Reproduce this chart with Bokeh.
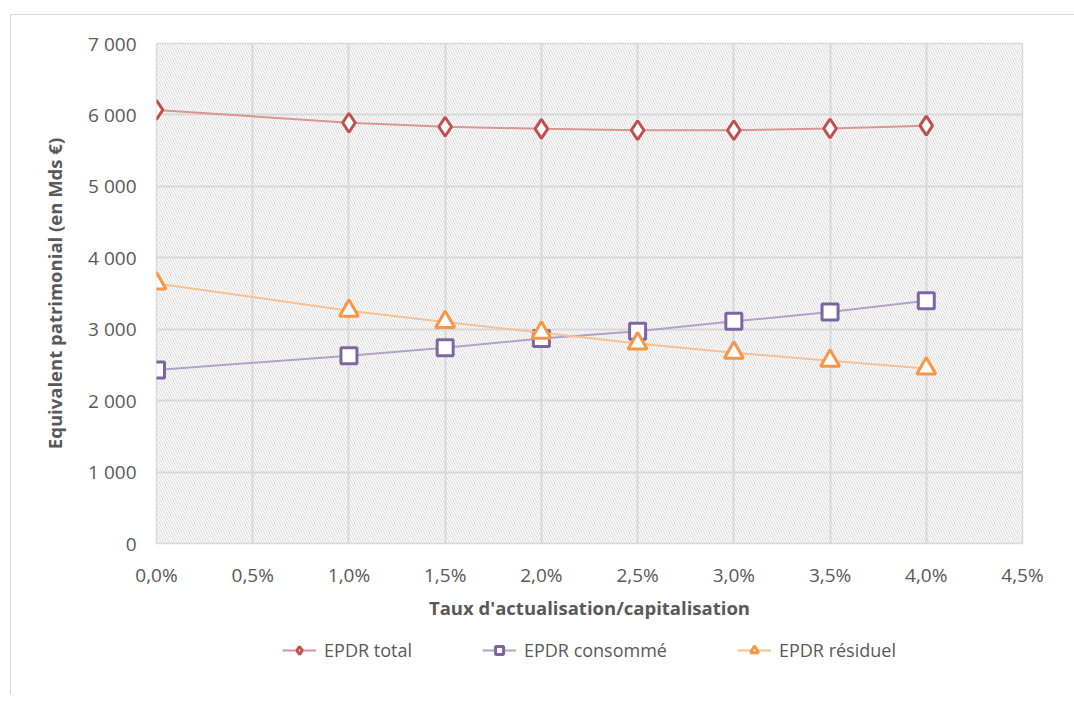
from bokeh.plotting import figure
from bokeh.layouts import column
from bokeh.models import (Range1d, FixedTicker, CustomJSTickFormatter, Legend, LegendItem,
                          BoxAnnotation)
from bokeh.embed import file_html
from bokeh.resources import INLINE

rates = [0.0, 1.0, 1.5, 2.0, 2.5, 3.0, 3.5, 4.0]
epdr_total = [6070, 5890, 5835, 5805, 5785, 5785, 5810, 5850]
epdr_consomme = [2430, 2630, 2740, 2870, 2970, 3110, 3240, 3400]
epdr_residuel = [3640, 3260, 3100, 2950, 2800, 2670, 2560, 2450]

x_ticks = [0.0, 0.5, 1.0, 1.5, 2.0, 2.5, 3.0, 3.5, 4.0, 4.5]
y_ticks = [0, 1000, 2000, 3000, 4000, 5000, 6000, 7000]

FONT = "Open Sans"
TXT = "#595959"

p = figure(frame_width=866, frame_height=500, output_backend="svg", toolbar_location=None,
           x_range=Range1d(0, 4.5), y_range=Range1d(0, 7000),
           min_border_left=145, min_border_right=52, min_border_top=28,
           min_border_bottom=0)

p.background_fill_color = "white"
p.border_fill_color = "white"
p.outline_line_color = "#d9d9d9"
p.outline_line_width = 1.5

# hatched plot-area background
p.add_layout(BoxAnnotation(fill_alpha=0, line_alpha=0, hatch_pattern="\\",
                           hatch_color="#d6d6d6", hatch_scale=5, hatch_weight=1,
                           level="underlay"))

for ax in (p.xaxis[0], p.yaxis[0]):
    ax.axis_line_color = None
    ax.major_tick_line_color = None
    ax.minor_tick_line_color = None
    ax.major_tick_out = 0
    ax.major_tick_in = 0
    ax.major_label_text_font = FONT
    ax.major_label_text_font_size = "19px"
    ax.major_label_text_color = TXT
    ax.axis_label_text_font = FONT
    ax.axis_label_text_font_size = "18.5px"
    ax.axis_label_text_font_style = "bold"
    ax.axis_label_text_color = TXT

p.xaxis.ticker = FixedTicker(ticks=x_ticks)
p.yaxis.ticker = FixedTicker(ticks=y_ticks)
p.xaxis.formatter = CustomJSTickFormatter(code="return tick.toFixed(1).replace('.', ',') + '%';")
p.yaxis.formatter = CustomJSTickFormatter(
    code="return tick.toFixed(0).replace(/\\B(?=(\\d{3})+(?!\\d))/g, ' ');")
p.xaxis.major_label_standoff = 18
p.yaxis.major_label_standoff = 20
p.xaxis.axis_label = "Taux d'actualisation/capitalisation"
p.yaxis.axis_label = "Equivalent patrimonial (en Mds €)"
p.xaxis.axis_label_standoff = 4
p.yaxis.axis_label_standoff = 18

p.xgrid.grid_line_color = "#d9d9d9"
p.ygrid.grid_line_color = "#d9d9d9"
p.xgrid.grid_line_width = 2
p.ygrid.grid_line_width = 2

# legend strip (separate small figure below the chart; its glyphs lie outside its view)
lg = figure(width=1063, height=72, output_backend="svg", toolbar_location=None,
            x_range=Range1d(100, 101), y_range=Range1d(100000, 100001),
            min_border_left=26, min_border_right=0, min_border_top=0, min_border_bottom=0)
lg.axis.visible = False
lg.grid.visible = False
lg.outline_line_color = None
lg.border_fill_color = "white"
lg.background_fill_color = "white"

series = [
    ("EPDR total", epdr_total, "diamond", "#C0504D", "#D99694", 19),
    ("EPDR consommé", epdr_consomme, "square", "#8064A2", "#B3A2C7", 16),
    ("EPDR résiduel", epdr_residuel, "triangle", "#F79646", "#FAC090", 19),
]
items = []
for name, vals, marker, mcol, lcol, size in series:
    p.line(rates, vals, line_color=lcol, line_width=2)
    p.scatter(rates, vals, marker=marker, size=size, line_color=mcol,
              fill_color="white", line_width=3)
    l2 = lg.line(rates, vals, line_color=lcol, line_width=2)
    s2 = lg.scatter(rates, vals, marker=marker, size=size, line_color=mcol,
                    fill_color="white", line_width=3)
    items.append(LegendItem(label=name, renderers=[l2, s2]))

legend = Legend(items=items, orientation="horizontal", location="top_center",
                label_text_font=FONT, label_text_font_size="18px",
                label_text_color=TXT, border_line_color=None,
                background_fill_alpha=0, spacing=70, glyph_width=34, glyph_height=20,
                margin=16, padding=2, label_standoff=8)
lg.add_layout(legend, "center")

layout = column(p, lg, spacing=0)
layout.styles = {"margin-left": "10px", "margin-top": "14px",
                 "border-left": "1px solid #d9d9d9", "border-top": "1px solid #d9d9d9"}

open("out.html", "w").write(file_html(layout, INLINE))
